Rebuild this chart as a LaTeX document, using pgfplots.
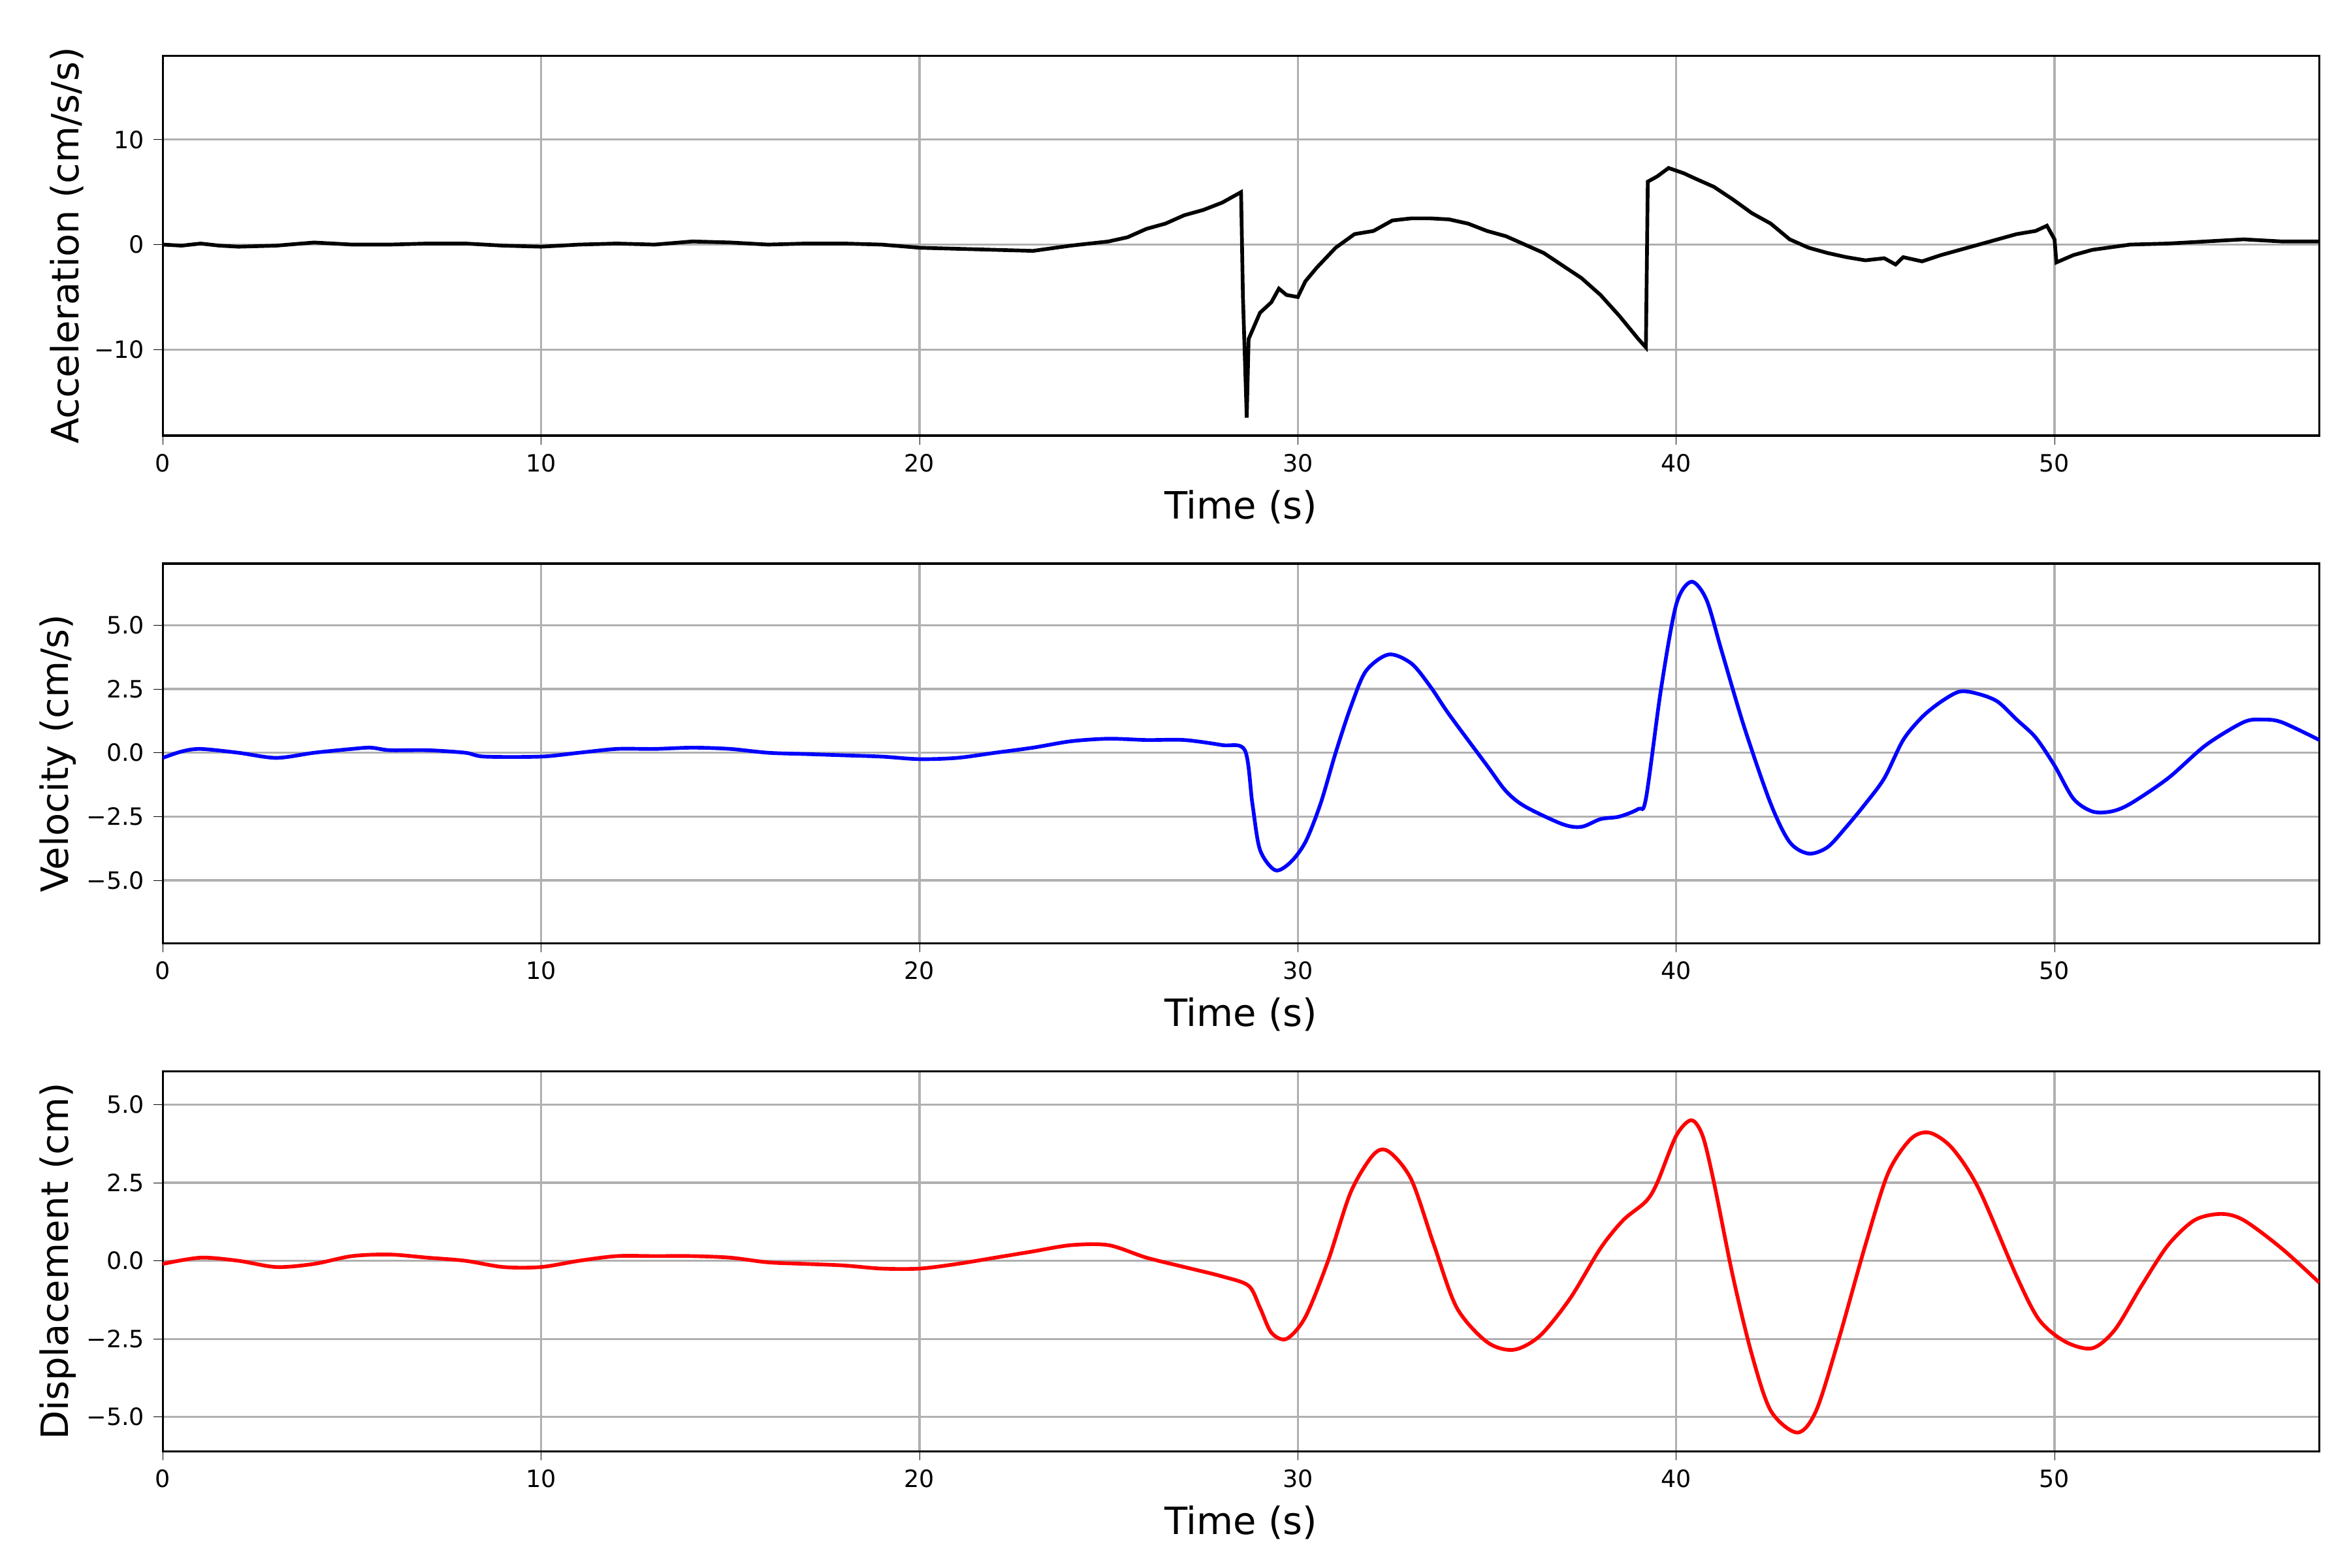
\documentclass[border=0pt]{standalone}
\usepackage{pgfplots}
\pgfplotsset{compat=1.18}
\usepackage{fontspec}
\setmainfont{DejaVu Sans}
\definecolor{gridc}{RGB}{176,176,176}
\pgfplotsset{every axis/.style={
  scale only axis, width=28.62cm, height=5.04cm,
  xmin=0, xmax=57, xtick={0,10,20,30,40,50},
  grid=major, major grid style={gridc, line width=0.8pt},
  tick style={black}, tick align=outside, major tick length=0.12cm,
  xtick pos=bottom, ytick pos=left,
  tick label style={font=\fontsize{9}{10}\selectfont},
  label style={font=\fontsize{14.2}{16}\selectfont},
  xlabel={Time (s)},
  /pgf/number format/assume math mode=true,
  axis line style={line width=0.8pt},
  ylabel style={yshift=-0.1cm},
}}
\begin{document}
\begin{tikzpicture}
\begin{axis}[at={(0,15.02cm)}, ymin=-18.2, ymax=18, ytick={-10,0,10}, yticklabels={−10,0,10}, ylabel={Acceleration (cm/s/s)}]
\addplot[black, line width=1.4pt] coordinates {(0,0) (0.5,-0.1) (1,0.1) (1.5,-0.1) (2,-0.2) (3,-0.1) (4,0.2) (5,0) (6,0) (7,0.1) (8,0.1) (9,-0.1) (10,-0.2) (11,0) (12,0.1) (13,0) (14,0.3) (15,0.2) (16,0) (17,0.1) (18,0.1) (19,0) (20,-0.3) (21,-0.4) (22,-0.5) (23,-0.6) (24,-0.1) (25,0.3) (25.5,0.7) (26,1.5) (26.5,2) (27,2.8) (27.5,3.3) (28,4) (28.5,5) (28.55,-5) (28.65,-16.5) (28.7,-9) (29,-6.5) (29.3,-5.5) (29.5,-4.2) (29.7,-4.8) (30,-5) (30.2,-3.5) (30.5,-2.2) (31,-0.3) (31.5,1) (32,1.3) (32.5,2.3) (33,2.5) (33.5,2.5) (34,2.4) (34.5,2) (35,1.3) (35.5,0.8) (36,0) (36.5,-0.8) (37,-2) (37.5,-3.2) (38,-4.8) (38.5,-6.8) (39,-9) (39.2,-9.8) (39.25,6) (39.5,6.5) (39.8,7.3) (40.2,6.8) (40.5,6.3) (41,5.5) (41.5,4.3) (42,3) (42.5,2) (43,0.5) (43.5,-0.3) (44,-0.8) (44.5,-1.2) (45,-1.5) (45.5,-1.3) (45.8,-1.9) (46,-1.2) (46.5,-1.6) (47,-1) (47.5,-0.5) (48,0) (48.5,0.5) (49,1) (49.5,1.3) (49.8,1.8) (50,0.5) (50.05,-1.7) (50.5,-1) (51,-0.5) (52,0) (53,0.1) (54,0.3) (55,0.5) (56,0.3) (57,0.3)};
\end{axis}
\begin{axis}[at={(0,8.28cm)}, ymin=-7.47, ymax=7.41, ytick={-5,-2.5,0,2.5,5}, yticklabels={−5.0,−2.5,0.0,2.5,5.0}, ylabel={Velocity (cm/s)}]
\addplot[blue, line width=1.4pt, smooth] coordinates {(0,-0.2) (0.5,0.05) (1,0.15) (2,0) (3,-0.2) (4,0) (5,0.15) (5.5,0.2) (6,0.1) (7,0.1) (8,0) (8.5,-0.15) (10,-0.15) (11,0) (12,0.15) (13,0.15) (14,0.2) (15,0.15) (16,0) (17,-0.05) (18,-0.1) (19,-0.15) (20,-0.25) (21,-0.2) (22,0) (23,0.2) (24,0.45) (25,0.55) (26,0.5) (27,0.5) (28,0.3) (28.6,0.1) (28.8,-2) (29,-3.8) (29.4,-4.6) (29.8,-4.3) (30.2,-3.5) (30.6,-2) (31,0) (31.4,1.8) (31.8,3.2) (32.4,3.85) (33,3.5) (33.5,2.6) (34,1.5) (35,-0.5) (35.5,-1.5) (36,-2.1) (37,-2.8) (37.5,-2.9) (38,-2.6) (38.5,-2.5) (39,-2.2) (39.2,-1.8) (39.6,2.5) (40,5.8) (40.4,6.7) (40.8,6) (41.2,4) (41.8,1) (42.5,-2) (43,-3.5) (43.5,-3.95) (44,-3.7) (44.5,-2.9) (45,-2.0) (45.5,-1.0) (46,0.5) (46.5,1.4) (47,2) (47.5,2.4) (48,2.3) (48.5,2) (49,1.3) (49.5,0.6) (50,-0.5) (50.5,-1.8) (51,-2.3) (51.5,-2.3) (52,-2.0) (53,-1) (54,0.3) (55,1.2) (55.5,1.3) (56,1.2) (57,0.5)};
\end{axis}
\begin{axis}[at={(0,1.54cm)}, ymin=-6.1, ymax=6.06, ytick={-5,-2.5,0,2.5,5}, yticklabels={−5.0,−2.5,0.0,2.5,5.0}, ylabel={Displacement (cm)}]
\addplot[red, line width=1.4pt, smooth] coordinates {(0,-0.1) (1,0.1) (2,0) (3,-0.2) (4,-0.1) (5,0.15) (6,0.2) (7,0.1) (8,0) (9,-0.2) (10,-0.2) (11,0) (12,0.15) (13,0.15) (14,0.15) (15,0.1) (16,-0.05) (17,-0.1) (18,-0.15) (19,-0.25) (20,-0.25) (21,-0.1) (22,0.1) (23,0.3) (24,0.5) (25,0.5) (26,0.1) (27,-0.2) (28,-0.5) (28.7,-0.8) (29,-1.5) (29.3,-2.3) (29.7,-2.5) (30.2,-1.8) (30.8,0) (31.4,2.2) (32,3.4) (32.4,3.5) (33,2.6) (33.6,0.5) (34.2,-1.5) (35,-2.6) (35.7,-2.85) (36.4,-2.4) (37.2,-1.2) (38,0.4) (38.6,1.3) (39.2,1.9) (39.5,2.5) (40,4) (40.4,4.5) (40.7,4) (41,2.5) (41.5,-0.5) (42,-3) (42.5,-4.8) (43.2,-5.5) (43.7,-4.8) (44.3,-2.5) (45,0.5) (45.6,2.8) (46.2,3.9) (46.7,4.1) (47.3,3.6) (48,2.3) (49,-0.5) (49.6,-1.9) (50.3,-2.6) (51,-2.8) (51.6,-2.2) (52.3,-0.8) (53,0.5) (53.7,1.3) (54.4,1.5) (55,1.3) (56,0.4) (57,-0.7)};
\end{axis}
\pgfresetboundingbox
\path (-2.16,0) rectangle (29.04,20.8);
\end{tikzpicture}
\end{document}
